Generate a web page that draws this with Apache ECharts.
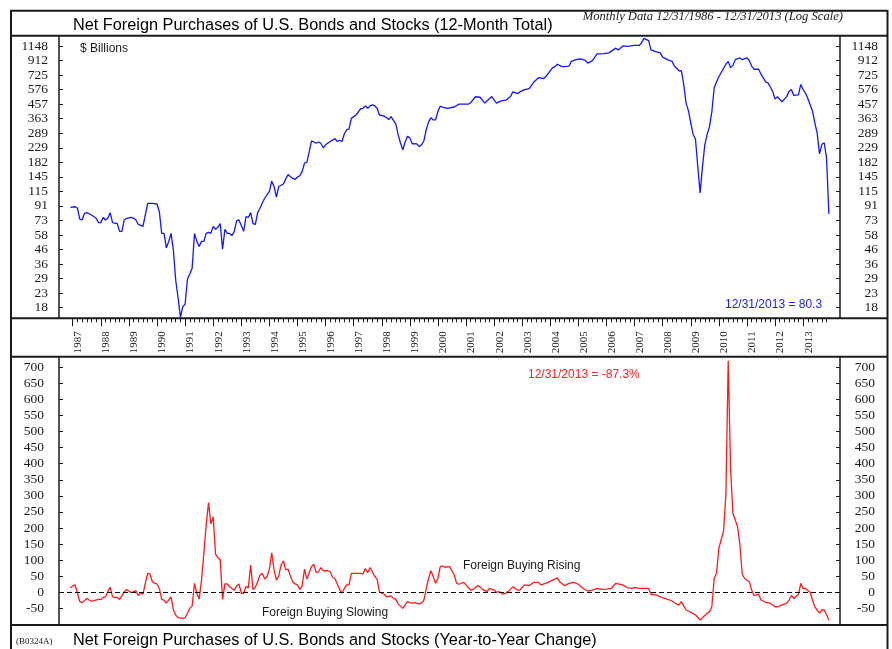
<!DOCTYPE html>
<html><head><meta charset="utf-8">
<script src="https://cdn.jsdelivr.net/npm/echarts@6/dist/echarts.min.js"></script>
<style>html,body{margin:0;padding:0;background:#fff}#c{width:892px;height:649px}</style>
</head><body><div id="c"></div>
<script>
// x values: months after 12/31/1986 (0 = Dec 1986, 1 = Jan 1987, ..., 324 = Dec 2013)
const totalMonths = [0,2,3,4,5,6,7,9,11,12,13,14,15,16,17,18,20,21,22,23,24,26,27,28,29,31,32,33,35,37,38,39,40,41,42,43,44,45,46,47,48,49,50,51,52,53,54,55,56,57,58,59,60,61,62,63,64,65,66,67,68,69,70,71,72,73,74,75,76,77,78,79,80,81,82,83,85,86,87,88,89,91,92,93,94,95,96,97,98,99,100,101,102,103,104,105,106,107,108,109,111,113,114,115,116,117,118,119,120,122,123,124,125,126,127,128,129,130,131,132,134,135,136,137,138,139,140,141,142,143,144,145,146,147,148,149,150,151,152,153,154,155,156,157,158,159,161,164,166,168,170,171,173,175,177,180,182,184,186,188,189,191,192,194,196,198,200,202,203,206,207,208,210,211,213,214,216,218,220,221,223,225,228,230,233,234,236,238,241,243,244,245,247,248,250,252,253,255,257,258,260,261,262,263,264,265,266,267,268,269,270,271,272,273,274,275,276,277,278,280,281,282,283,284,286,287,289,290,291,292,294,295,297,298,299,300,301,302,304,306,307,308,309,311,312,313,314,315,317,318,319,320,321,322,323,324];
const totalValues = [89,90,88,74,73,81,82,79,75,70,70,76,73,75,82,70,69,61,61,73,75,76,75,73,68,66,79,95,95,94,83,59,59,47,52,59,45,28,21.3,15.6,18.5,19.2,28.7,31,34,59,52,48,52,52,59,60,59,66,63,65,69,46,63,59,59,57,61,72,73,67,61,77,76,82,69,68,82,88,96,103,115,135,124,105,124,129,140,150,145,141,139,144,147,157,180,182,215,256,251,246,251,246,229,240,253,265,253,258,253,285,305,308,365,385,405,425,428,445,428,445,452,446,428,385,378,370,358,375,354,335,282,247,222,251,275,268,244,245,244,233,240,256,305,345,368,356,356,408,442,437,428,437,457,457,457,469,514,510,465,516,465,482,487,516,555,540,555,576,585,650,695,685,705,815,828,860,828,828,836,900,925,935,915,875,912,1013,1018,1030,1110,1080,1150,1140,1160,1160,1210,1296,1250,1080,1050,1030,963,925,900,836,776,776,623,465,413,340,283,263,170,112,170,240,283,320,405,590,650,705,755,860,900,815,845,925,950,925,950,912,836,795,795,735,650,640,600,560,495,515,475,515,560,576,525,530,625,576,545,500,410,340,289,208,242,248,195,80.3];

const changeMonths = [0,1,2,3,4,5,6,7,8,9,10,12,13,14,15,16,17,18,19,20,21,22,23,24,25,26,28,29,30,31,32,33,34,35,36,37,38,39,40,41,43,44,45,46,48,49,50,51,52,53,54,55,56,57,58,59,60,61,62,63,64,65,66,67,68,69,70,71,72,73,74,75,76,77,78,79,80,81,82,83,84,85,86,87,88,89,90,91,92,93,94,95,96,97,98,99,100,101,102,103,104,105,106,107,108,110,111,112,113,114,115,116,117,118,119,120,122,124,125,126,127,128,129,130,131,132,133,134,135,137,138,139,140,142,143,144,145,146,147,149,150,151,152,153,154,155,156,157,158,159,160,162,164,165,166,168,169,171,172,174,175,176,178,179,181,182,183,185,187,189,191,192,194,196,198,200,201,203,206,208,209,211,213,215,217,219,221,223,225,227,229,231,233,236,238,240,241,243,245,247,248,250,253,255,257,259,260,261,263,265,267,269,270,272,273,274,275,276,277,279,280,281,282,283,285,286,287,288,290,291,292,293,294,295,297,299,301,302,304,306,307,308,309,311,312,313,314,316,317,318,320,321,322,323,324];
const changeValues = [14,20,23,-3,-29,-32,-26,-19,-24,-27,-26,-22,-22,-16,-14,2,16,-14,-16,-16,-22,-11,2,9,4,-1,5,-10,-3,-5,28,59,57,33,28,26,12,-22,-24,-34,-14,-55,-71,-79,-81,-79,-65,-50,-43,28,-3,-21,38,121,209,279,213,235,119,108,101,-22,26,26,18,12,7,20,26,-3,-3,18,14,85,9,16,33,54,59,41,49,72,123,70,38,51,85,98,70,72,49,33,26,23,9,20,72,41,61,80,87,61,64,77,67,67,64,47,43,26,9,-3,12,23,23,59,59,59,57,74,61,77,64,49,41,2,-3,-6,-14,-11,-19,-22,-36,-50,-39,-29,-32,-34,-32,-36,-34,-24,12,43,67,49,28,43,80,82,78,80,54,28,25,31,23,7,9,21,17,9,2,12,7,0,2,-6,2,17,7,7,23,21,31,31,23,28,38,45,33,21,28,31,25,12,4,7,12,9,10,12,28,23,14,12,15,12,12,12,-6,-8,-17,-21,-27,-37,-39,-29,-55,-62,-70,-86,-79,-65,-60,-45,43,59,137,191,303,720,386,246,204,147,56,43,33,7,-10,-8,-6,-24,-31,-34,-45,-45,-39,-34,-24,-10,-19,-6,28,12,12,0,-24,-45,-65,-55,-55,-70,-87.3];

const yearLabels = ['1987','1988','1989','1990','1991','1992','1993','1994','1995','1996','1997','1998','1999','2000','2001','2002','2003','2004','2005','2006','2007','2008','2009','2010','2011','2012','2013'];
const logTickLabels = ['18','23','29','36','46','58','73','91','115','145','182','229','289','363','457','576','725','912','1148'];
const changeTickLabels = [-50,0,50,100,150,200,250,300,350,400,450,500,550,600,650,700];

// log scale: each tick is a factor of 10^0.1 above the previous one
const logTop = 1148, logSteps = logTickLabels.length - 1;
const logBottom = logTop / Math.pow(10, logSteps / 10);
const toLogUnits = v => 10 * Math.log10(v / logBottom);

const topData = totalMonths.map((m, i) => [m, toLogUnits(totalValues[i])]);
const botData = changeMonths.map((m, i) => [m, changeValues[i]]);

const logTickPos = logTickLabels.map((_, k) => k);
const yearTickPos = yearLabels.map((_, k) => 1 + 12 * k);
const minorTickPos = [];
for (let m = 1; m <= 323; m += 2) minorTickPos.push(m);

const SERIF = "'Liberation Serif','Times New Roman',serif";
const SANS = "'Liberation Sans',Arial,Helvetica,sans-serif";
const INK = '#1a1a1a';

const xMin = -4.87, xMax = 328.75;

const chart = echarts.init(document.getElementById('c'), null, {renderer: 'canvas'});

function yAx(grid, side, min, max, custom, fmt, margin) {
  return {
    gridIndex: grid, type: 'value', position: side, min: min, max: max,
    axisLine: {show: false, onZero: false}, splitLine: {show: false},
    axisTick: {show: true, inside: true, length: 4, customValues: custom, lineStyle: {color: INK, width: 1}},
    axisLabel: {show: true, customValues: custom, formatter: fmt, margin: margin, align: 'right',
      fontFamily: SERIF, fontSize: 13.5, color: INK}
  };
}

const hl = (x1, x2, y, w) => ({type: 'line', z: 100, shape: {x1: x1, y1: y, x2: x2, y2: y}, style: {stroke: INK, lineWidth: w || 2}});
const vl = (x, y1, y2, w) => ({type: 'line', z: 100, shape: {x1: x, y1: y1, x2: x, y2: y2}, style: {stroke: INK, lineWidth: w || 2}});
const tx = (x, y, text, o) => ({type: 'text', z: 100, x: x, y: y, style: Object.assign({text: text, fontFamily: SANS, fontSize: 12, fill: INK, textAlign: 'left', textVerticalAlign: 'middle', verticalAlign: 'middle'}, o || {})});

chart.setOption({
  animation: false,
  backgroundColor: '#fff',
  grid: [
    {left: 59, right: 52, top: 36, height: 282.3},
    {left: 59, right: 52, top: 357, height: 268}
  ],
  xAxis: [
    {gridIndex: 0, type: 'value', min: xMin, max: xMax, position: 'bottom',
      axisLine: {show: false, onZero: false}, splitLine: {show: false},
      axisTick: {show: true, inside: false, length: 8, customValues: yearTickPos, lineStyle: {color: INK, width: 1}},
      axisLabel: {show: true, customValues: yearTickPos, rotate: 90, margin: 13, verticalAlign: 'top',
        formatter: v => yearLabels[Math.round((v - 1) / 12)], fontFamily: SERIF, fontSize: 11, color: INK}},
    {gridIndex: 0, type: 'value', min: xMin, max: xMax, position: 'bottom',
      axisLine: {show: false, onZero: false}, splitLine: {show: false}, axisLabel: {show: false},
      axisTick: {show: true, inside: false, length: 4, customValues: minorTickPos, lineStyle: {color: INK, width: 1}}},
    {gridIndex: 1, type: 'value', min: xMin, max: xMax, show: false, axisLine: {onZero: false}}
  ],
  yAxis: [
    yAx(0, 'left', -0.73, 18.69, logTickPos, v => logTickLabels[Math.round(v)], 11),
    yAx(0, 'right', -0.73, 18.69, logTickPos, v => logTickLabels[Math.round(v)], 38),
    yAx(1, 'left', -101.7, 732, changeTickLabels, v => String(v), 15),
    yAx(1, 'right', -101.7, 732, changeTickLabels, v => String(v), 35)
  ],
  series: [
    {type: 'line', xAxisIndex: 0, yAxisIndex: 0, data: topData, showSymbol: false, symbol: 'none',
      lineStyle: {color: '#1515ff', width: 1.3}, silent: true},
    {type: 'line', xAxisIndex: 2, yAxisIndex: 2, data: botData, showSymbol: false, symbol: 'none',
      lineStyle: {color: '#ff1a1a', width: 1.3}, silent: true,
      markLine: {silent: true, symbol: 'none', label: {show: false},
        lineStyle: {color: '#000', type: [5, 3], width: 1.2}, data: [{yAxis: 0}]}}
  ],
  graphic: [
    hl(11, 887.5, 10.7), hl(11, 887.5, 35.7), hl(11, 887.5, 318.3), hl(11, 887.5, 356.7), hl(11, 887.5, 625),
    vl(11, 10, 649), vl(887.5, 10, 649),
    vl(59, 35.7, 318.3, 1.5), vl(840, 35.7, 318.3, 1.5), vl(59, 356.7, 625, 1.5), vl(840, 356.7, 625, 1.5),
    tx(73, 26, 'Net Foreign Purchases of U.S. Bonds and Stocks (12-Month Total)', {fontSize: 16.3, fill: '#000'}),
    tx(843, 17, 'Monthly Data 12/31/1986 - 12/31/2013 (Log Scale)', {fontFamily: SERIF, fontStyle: 'italic', fontSize: 12.6, textAlign: 'right', align: 'right'}),
    tx(80, 49, '$ Billions'),
    tx(725, 305, '12/31/2013 = 80.3', {fill: '#2020ee'}),
    tx(528, 375, '12/31/2013 = -87.3%', {fill: '#ff2020'}),
    tx(463, 566, 'Foreign Buying Rising'),
    tx(262, 613, 'Foreign Buying Slowing'),
    tx(16, 642, '(B0324A)', {fontFamily: SERIF, fontSize: 9}),
    tx(73, 641, 'Net Foreign Purchases of U.S. Bonds and Stocks (Year-to-Year Change)', {fontSize: 16.3, fill: '#000'})
  ]
});
</script>
</body></html>
